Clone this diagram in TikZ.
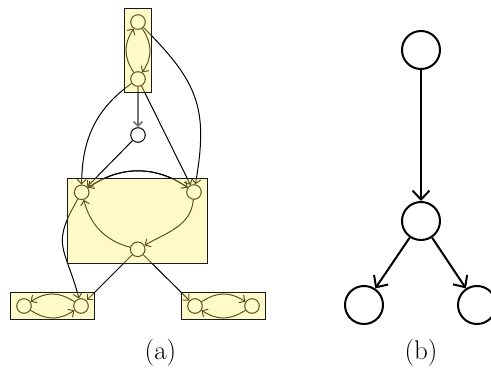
\documentclass[tikz,border=0pt]{standalone}
\usetikzlibrary{arrows.meta,fit}
\definecolor{grpfill}{RGB}{255,240,98}
\begin{document}
\begin{tikzpicture}[x=1pt,y=1pt,
  sn/.style={circle, draw, line width=1pt, minimum size=14.6pt, inner sep=0pt},
  bn/.style={circle, draw, line width=2pt, minimum size=38pt, inner sep=0pt},
  ea/.style={line width=1pt, -{Straight Barb[length=4.5pt,width=9pt]}},
  eg/.style={ea, draw=black!55, line width=1.6pt},
  eb/.style={line width=2pt, -{Straight Barb[length=9pt,width=17pt]}},
  grp/.style={draw=black!90, line width=1.1pt, fill=grpfill, fill opacity=0.35, inner sep=6pt},
  lab/.style={font=\fontsize{27}{32}\selectfont, inner sep=0pt}]
\useasboundingbox (0,0) rectangle (491,381);
% ---- panel (a) nodes
\node[sn] (T1) at (138,359) {};
\node[sn] (T2) at (138,302) {};
\node[sn] (S)  at (138,246) {};
\node[sn] (L)  at (81.7,188.7) {};
\node[sn] (R)  at (194,189) {};
\node[sn] (B)  at (137.7,131.7) {};
\node[sn] (BL1) at (24,75) {};
\node[sn] (BL2) at (81,75) {};
\node[sn] (BR1) at (195,75) {};
\node[sn] (BR2) at (252,75) {};
% ---- panel (a) edges
\draw[ea] (T2) to[bend left=33,looseness=1.1] (T1);
\draw[ea] (T1) to[bend left=33,looseness=1.1] (T2);
\draw[eg] (T2) -- (S);
\draw[ea] (T2) to[out=215,in=90] (L);
\draw[ea] (T2) -- (R);
\draw[ea] (T1) to[out=-45,in=80,looseness=1.2] (R);
\draw[ea] (S) -- (L);
\draw[ea] (L) to[bend left=35] (R);
\draw[ea] (R) to[bend right=35] (L);
\draw[ea] (R) to[out=-95,in=30] (B);
\draw[ea] (B) to[out=165,in=-75] (L);
\draw[ea] (L) to[out=240,in=105,looseness=1.4] (BL2);
\draw[ea] (B) -- (BL2);
\draw[ea] (B) -- (BR1);
\draw[ea] (BL2) to[bend right=33,looseness=1.1] (BL1);
\draw[ea] (BL1) to[bend right=33,looseness=1.1] (BL2);
\draw[ea] (BR1) to[bend left=33,looseness=1.1] (BR2);
\draw[ea] (BR2) to[bend left=33,looseness=1.1] (BR1);
% ---- group frames
\node[grp, fit=(T1)(T2)] (gT) {};
\node[grp, fit=(L)(R)(B)] (gM) {};
\node[grp, fit=(BL1)(BL2)] (gL) {};
\node[grp, fit=(BR1)(BR2)] (gR) {};
% ---- panel (b)
\node[bn] (P1) at (421,331) {};
\node[bn] (P2) at (421,160) {};
\node[bn] (P3) at (364,76) {};
\node[bn] (P4) at (477,76) {};
\draw[eb] (P1) -- (P2);
\draw[eb] (P2) -- (P3);
\draw[eb] (P2) -- (P4);
% ---- captions
\node[lab] (ca) at (160.5,28) {(a)};
\node[lab] (cb) at (421,28) {(b)};
\end{tikzpicture}
\end{document}
